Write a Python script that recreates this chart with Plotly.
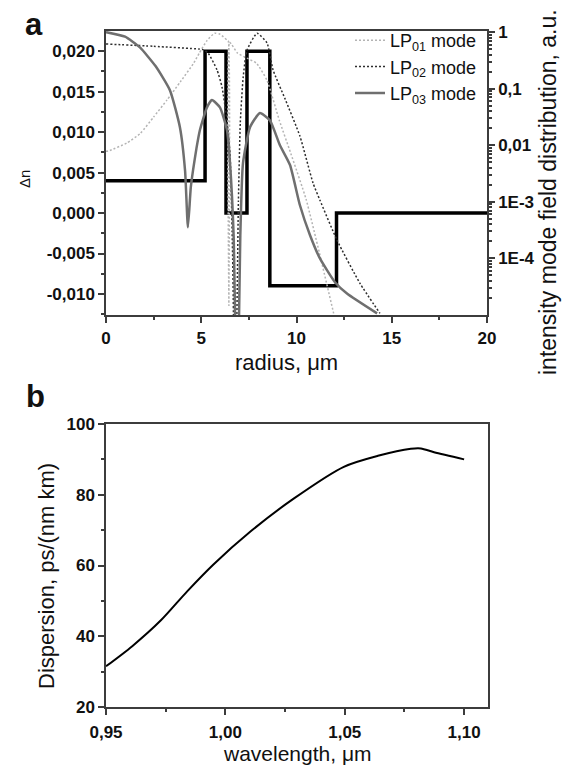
import plotly.graph_objects as go

FONT = "Liberation Sans, Arial, sans-serif"
W, H = 564, 765
AXIS_COLOR = "#3c3c3c"

# ---- panel a: refractive index profile (step function) ----
profile_radius = [0, 5.2, 6.3, 7.4, 8.6, 12.1, 20]
profile_dn = [0.004, 0.020, 0.000, 0.020, -0.009, 0.000, 0.000]

# ---- panel a: mode intensity distributions (log scale) ----
lp01_radius = [0.0, 0.2, 1.1, 1.8, 2.5, 3.2, 3.9, 4.6, 4.9, 5.3, 5.7, 6.0, 6.35,
               6.42, 6.45, 6.48, 6.6, 6.9, 7.4, 7.9, 8.45, 9.1, 9.7, 10.5, 11.2, 11.95]
lp01_intensity = [7.8e-3, 8.1e-3, 1.1e-2, 1.62e-2, 3.16e-2, 6.3e-2, 0.132, 0.282, 0.427,
                  0.708, 0.955, 0.912, 0.724, 0.692, 1.48e-5, 0.661, 0.603, 0.427, 0.347,
                  0.282, 0.141, 2.75e-2, 7.2e-3, 1.12e-3, 1.26e-4, 1.07e-5]

lp02_radius = [0.0, 2.5, 4.9, 5.1, 5.36, 5.83, 6.09, 6.35, 6.51, 6.65, 6.78, 6.95, 7.05,
               7.2, 7.4, 7.93, 8.45, 8.77, 9.4, 10.18, 10.87, 11.23, 12.13, 13.33, 14.38]
lp02_intensity = [0.617, 0.562, 0.501, 0.490, 0.427, 0.214, 0.107, 2.75e-2, 7.2e-3, 1.0e-4,
                  1.0e-7, 1.0e-3, 2.51e-2, 0.158, 0.479, 0.955, 0.646, 0.214, 6.6e-2,
                  1.45e-2, 2.14e-3, 1.07e-3, 2.09e-4, 3.63e-5, 1.07e-5]

lp03_radius = [0.0, 1.0, 1.78, 2.6, 3.36, 3.88, 4.15, 4.3, 4.45, 4.57, 4.75, 4.93, 5.3,
               5.56, 5.98, 6.35, 6.51, 6.7, 6.88, 7.05, 7.19, 7.56, 8.08, 8.61, 9.13,
               9.66, 10.18, 10.71, 11.23, 12.02, 12.65, 14.23]
lp03_intensity = [1.0, 0.832, 0.537, 0.251, 9.33e-2, 2.09e-2, 3.55e-3, 3.55e-4, 1.78e-3,
                  3.63e-3, 8.9e-3, 1.86e-2, 4.68e-2, 6.3e-2, 4.68e-2, 1.86e-2, 4.79e-3,
                  2.5e-4, 1.0e-7, 2.5e-4, 4.79e-3, 2.09e-2, 3.72e-2, 2.75e-2, 1.0e-2,
                  4.47e-3, 8.7e-4, 2.57e-4, 1.0e-4, 3.8e-5, 2.4e-5, 1.07e-5]

# ---- panel b: chromatic dispersion ----
wavelength = [0.950, 0.961, 0.973, 0.984, 0.995, 1.0105, 1.0286, 1.0496, 1.0639,
              1.0777, 1.0819, 1.0874, 1.100]
dispersion = [31.5, 37.2, 44.5, 52.7, 60.3, 69.6, 78.9, 87.9, 91.0,
              93.0, 93.1, 92.0, 90.0]

# ---- tick labels ----
dn_ticks = [-0.010, -0.005, 0.000, 0.005, 0.010, 0.015, 0.020]
dn_labels = ["-0,010", "-0,005", "0,000", "0,005", "0,010", "0,015", "0,020"]
radius_ticks = [0, 5, 10, 15, 20]
radius_labels = ["0", "5", "10", "15", "20"]
intensity_ticks = [1e-4, 1e-3, 1e-2, 1e-1, 1]
intensity_labels = ["1E-4", "1E-3", "0,01", "0,1", "1"]
disp_ticks = [20, 40, 60, 80, 100]
disp_labels = ["20", "40", "60", "80", "100"]
wl_ticks = [0.95, 1.00, 1.05, 1.10]
wl_labels = ["0,95", "1,00", "1,05", "1,10"]

dn_minor = [-0.0125, -0.0075, -0.0025, 0.0025, 0.0075, 0.0125, 0.0175]
radius_minor = [2.5, 7.5, 12.5, 17.5]
intensity_minor = [m * 10.0 ** e for e in range(-5, 0) for m in range(2, 10)]
disp_minor = [30, 50, 70, 90]
wl_minor = [0.975, 1.025, 1.075]

fig = go.Figure()

fig.add_trace(go.Scatter(
    x=profile_radius, y=profile_dn, mode="lines", line_shape="hv",
    line=dict(color="black", width=3.5), showlegend=False,
    xaxis="x", yaxis="y"))

fig.add_trace(go.Scatter(
    x=lp01_radius, y=lp01_intensity, mode="lines", name="LP<sub>01</sub> mode",
    line=dict(color="#b4b4b4", width=1.5, dash="2px,2px", shape="spline", smoothing=0.5),
    xaxis="x", yaxis="y2"))
fig.add_trace(go.Scatter(
    x=lp02_radius, y=lp02_intensity, mode="lines", name="LP<sub>02</sub> mode",
    line=dict(color="#2e2e2e", width=1.5, dash="2px,2px", shape="spline", smoothing=0.5),
    xaxis="x", yaxis="y2"))
fig.add_trace(go.Scatter(
    x=lp03_radius, y=lp03_intensity, mode="lines", name="LP<sub>03</sub> mode",
    line=dict(color="#6f6f6f", width=2.5, shape="spline", smoothing=0.5),
    xaxis="x", yaxis="y2"))

fig.add_trace(go.Scatter(
    x=wavelength, y=dispersion, mode="lines",
    line=dict(color="black", width=2, shape="spline", smoothing=0.8), showlegend=False,
    xaxis="x2", yaxis="y3"))

tickfont = dict(family=FONT, size=17, color="#111111", weight="bold")
common = dict(showline=True, linecolor=AXIS_COLOR, linewidth=1.5, showgrid=False,
              zeroline=False, ticks="outside", tickcolor=AXIS_COLOR, tickwidth=1.5,
              ticklen=6, tickfont=tickfont, tickmode="array", automargin=False)
minor_common = dict(ticks="outside", ticklen=3, tickcolor=AXIS_COLOR, tickwidth=1.5,
                    showgrid=False)

fig.update_layout(
    width=W, height=H, margin=dict(l=0, r=0, t=0, b=0),
    paper_bgcolor="white", plot_bgcolor="white",
    font=dict(family=FONT, color="#111111"),
    xaxis=dict(domain=[106 / W, 487 / W], anchor="y", range=[0, 20], mirror=True,
               tickvals=radius_ticks, ticktext=radius_labels, ticklabelstandoff=1,
               minor=dict(tickvals=radius_minor, **minor_common), **common),
    yaxis=dict(domain=[1 - 315 / H, 1 - 31 / H], anchor="x", range=[-0.0126, 0.0225],
               tickvals=dn_ticks, ticktext=dn_labels,
               minor=dict(tickvals=dn_minor, **minor_common), **common),
    yaxis2=dict(overlaying="y", side="right", anchor="x", type="log", range=[-5.0, 0.02],
                tickvals=intensity_ticks, ticktext=intensity_labels,
                minor=dict(tickvals=intensity_minor, **minor_common), **common),
    xaxis2=dict(domain=[106 / W, 488 / W], anchor="y3", range=[0.95, 1.11], mirror=True,
                tickvals=wl_ticks, ticktext=wl_labels, ticklabelstandoff=3,
                minor=dict(tickvals=wl_minor, **minor_common), **common),
    yaxis3=dict(domain=[1 - 707 / H, 1 - 424 / H], anchor="x2", range=[20, 100], mirror=True,
                tickvals=disp_ticks, ticktext=disp_labels,
                minor=dict(tickvals=disp_minor, **minor_common), **common),
    legend=dict(x=350 / W, y=1 - 22 / H, xanchor="left", yanchor="top",
                bgcolor="rgba(0,0,0,0)", font=dict(family=FONT, size=18, color="#111111"),
                itemwidth=30, tracegroupgap=0),
)


def label(text, x, y, size, angle=0, bold=False):
    fig.add_annotation(text=text, x=x / W, y=1 - y / H, xref="paper", yref="paper",
                       showarrow=False, textangle=angle, xanchor="center", yanchor="middle",
                       font=dict(family=FONT, size=size, color="#111111",
                                 weight="bold" if bold else "normal"))


label("a", 34, 25, 31, bold=True)
label("b", 35, 396, 31, bold=True)
label("Δn", 24, 179, 15, angle=-90)
label("intensity mode field distribution, a.u.", 548, 192, 23, angle=-90)
label("radius, μm", 286, 362, 22)
label("Dispersion, ps/(nm km)", 46, 576, 22, angle=-90)
label("wavelength, μm", 297, 753, 21)

fig.write_html("out.html")
